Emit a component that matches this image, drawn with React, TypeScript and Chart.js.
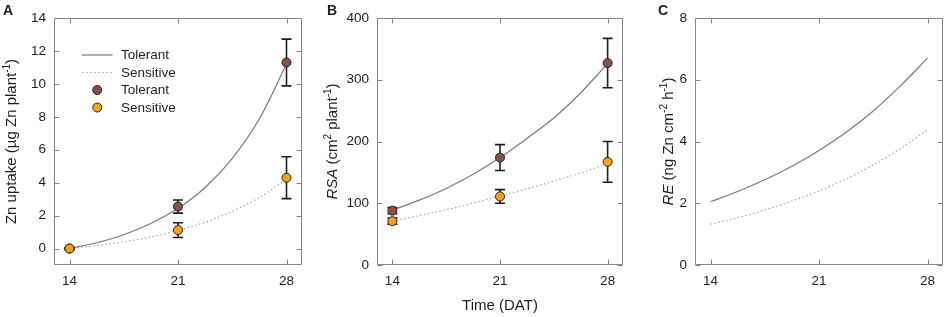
import React, { useEffect, useRef } from "react";
import { Chart, registerables } from "chart.js";

Chart.register(...registerables);

// ---------- data ----------
const days = [14, 21, 28];
const dayTicks = [14, 21, 28];
const fitDays = [14, 15.75, 17.5, 19.25, 21, 22.75, 24.5, 26.25, 28];

// Panel A: Zn uptake (µg Zn plant-1)
const uptakeTolerant = [0, 2.55, 11.3];
const uptakeTolerantErr = [0.05, 0.4, 1.42];
const uptakeSensitive = [0, 1.12, 4.3];
const uptakeSensitiveErr = [0.05, 0.45, 1.27];
const uptakeFitTolerant = [0, 0.35, 0.84, 1.52, 2.44, 3.71, 5.47, 7.88, 11.2];
const uptakeFitSensitive = [0, 0.18, 0.41, 0.71, 1.1, 1.6, 2.26, 3.1, 4.2];
const uptakeTicks = [0, 2, 4, 6, 8, 10, 12, 14];

// Panel B: RSA (cm2 plant-1)
const rsaTolerant = [88, 174, 327];
const rsaTolerantErr = [5, 21, 40];
const rsaSensitive = [71, 111, 167];
const rsaSensitiveErr = [5, 11, 33];
const rsaFitTolerant = [89, 105, 124, 147, 174, 205, 238, 279, 326];
const rsaFitSensitive = [71.5, 80, 89.6, 100, 112, 123.5, 135.7, 149, 164.5];
const rsaTicks = [0, 100, 200, 300, 400];

// Panel C: RE (ng Zn cm-2 h-1)
const reFitTolerant = [2.05, 2.38, 2.76, 3.2, 3.71, 4.3, 4.99, 5.8, 6.7];
const reFitSensitive = [1.32, 1.53, 1.78, 2.07, 2.4, 2.79, 3.24, 3.77, 4.38];
const reTicks = [0, 2, 4, 6, 8];

const seriesNames = ["Tolerant", "Sensitive"];
const panelLetters = ["A", "B", "C"];
const xAxisTitle = "Time (DAT)";

type Seg = { text: string; italic?: boolean; sup?: boolean };
const titleA: Seg[] = [{ text: "Zn uptake (µg Zn plant" }, { text: "-1", sup: true }, { text: ")" }];
const titleB: Seg[] = [
  { text: "RSA", italic: true },
  { text: " (cm" },
  { text: "2", sup: true },
  { text: " plant" },
  { text: "-1", sup: true },
  { text: ")" },
];
const titleC: Seg[] = [
  { text: "RE", italic: true },
  { text: " (ng Zn cm" },
  { text: "-2", sup: true },
  { text: " h" },
  { text: "-1", sup: true },
  { text: ")" },
];

// ---------- styles ----------
const FONT = "Arial, 'Liberation Sans', Helvetica, sans-serif";
const TEXT = "#1e1e1e";
const FRAME = "#858585";
const TOL_FILL = "#8B4F42";
const SEN_FILL = "#F7A21E";
const TOL_LINE = "#7a7a7a";
const SEN_LINE = "#a8a8a8";
const H = 317;

const pts = (xs: number[], ys: number[]) => xs.map((x, i) => ({ x, y: ys[i] }));

function segFont(s: Seg, size: number) {
  return `${s.italic ? "italic " : ""}${s.sup ? Math.round(size * 0.68) : size}px ${FONT}`;
}

function drawRich(ctx: CanvasRenderingContext2D, segs: Seg[], bx: number, cy: number, size: number) {
  const widths = segs.map((s) => {
    ctx.font = segFont(s, size);
    return ctx.measureText(s.text).width;
  });
  const total = widths.reduce((a, b) => a + b, 0);
  ctx.save();
  ctx.translate(bx, cy);
  ctx.rotate(-Math.PI / 2);
  ctx.fillStyle = TEXT;
  ctx.textAlign = "left";
  ctx.textBaseline = "alphabetic";
  let x = -total / 2;
  segs.forEach((s, i) => {
    ctx.font = segFont(s, size);
    ctx.fillText(s.text, x, s.sup ? -size * 0.4 : 0);
    x += widths[i];
  });
  ctx.restore();
}

const errorBarPlugin = {
  id: "errorBars",
  beforeDatasetDraw(chart: any, args: any) {
    const ds = chart.data.datasets[args.index];
    if (!ds.errors) return;
    const ctx = chart.ctx;
    const xs = chart.scales.x;
    const ys = chart.scales.y;
    ctx.save();
    ctx.strokeStyle = "#1e1e1e";
    ctx.lineWidth = 1.6;
    ds.data.forEach((p: any, i: number) => {
      const e = ds.errors[i];
      const px = xs.getPixelForValue(p.x);
      const top = ys.getPixelForValue(p.y + e);
      const bot = ys.getPixelForValue(p.y - e);
      ctx.beginPath();
      ctx.moveTo(px, top);
      ctx.lineTo(px, bot);
      ctx.moveTo(px - 5, top);
      ctx.lineTo(px + 5, top);
      ctx.moveTo(px - 5, bot);
      ctx.lineTo(px + 5, bot);
      ctx.stroke();
    });
    ctx.restore();
  },
};

const decorPlugin = {
  id: "decor",
  afterDraw(chart: any, _args: any, opts: any) {
    const ctx = chart.ctx as CanvasRenderingContext2D;
    const a = chart.chartArea;
    const xs = chart.scales.x;
    const ys = chart.scales.y;
    const L = Math.round(a.left) + 0.5;
    const R = Math.round(a.right) - 0.5;
    const T = Math.round(a.top) + 0.5;
    const B = Math.round(a.bottom) - 0.5;
    ctx.save();
    ctx.strokeStyle = FRAME;
    ctx.lineWidth = 1;
    ctx.beginPath();
    ctx.rect(L, T, R - L, B - T);
    const tl = 5;
    xs.ticks.forEach((t: any) => {
      const px = Math.round(xs.getPixelForValue(t.value)) + 0.5;
      ctx.moveTo(px, B);
      ctx.lineTo(px, B - tl);
      ctx.moveTo(px, T);
      ctx.lineTo(px, T + tl);
    });
    ys.ticks.forEach((t: any) => {
      const py = Math.round(ys.getPixelForValue(t.value)) + 0.5;
      ctx.moveTo(L, py);
      ctx.lineTo(L + tl, py);
      ctx.moveTo(R, py);
      ctx.lineTo(R - tl, py);
    });
    ctx.stroke();

    // y title
    drawRich(ctx, opts.title, opts.titleX, (a.top + a.bottom) / 2, 15);

    // panel letter
    ctx.fillStyle = TEXT;
    ctx.font = `bold 14px ${FONT}`;
    ctx.textAlign = "left";
    ctx.textBaseline = "alphabetic";
    ctx.fillText(opts.letter, opts.letterX, 14.5);

    // x title
    if (opts.xTitle) {
      ctx.font = `15px ${FONT}`;
      ctx.textAlign = "center";
      ctx.fillText(opts.xTitle, (a.left + a.right) / 2, 310);
    }

    // legend
    if (opts.legend) {
      const ds = chart.data.datasets;
      const lx0 = a.left + 28;
      const lx1 = a.left + 58.5;
      const tx = a.left + 67;
      const rows = [55, 72.5, 90, 107.5];
      ctx.font = `13.5px ${FONT}`;
      ctx.textAlign = "left";
      ctx.textBaseline = "middle";
      const lineSets = [ds[2], ds[3]];
      lineSets.forEach((d: any, i: number) => {
        ctx.save();
        ctx.strokeStyle = d.borderColor;
        ctx.lineWidth = d.borderWidth;
        ctx.setLineDash(d.borderDash || []);
        ctx.beginPath();
        ctx.moveTo(lx0, rows[i]);
        ctx.lineTo(lx1, rows[i]);
        ctx.stroke();
        ctx.restore();
        ctx.fillStyle = TEXT;
        ctx.fillText(d.label, tx, rows[i] + 0.5);
      });
      const ptSets = [ds[1], ds[0]];
      ptSets.forEach((d: any, i: number) => {
        const y = rows[i + 2];
        ctx.beginPath();
        ctx.arc((lx0 + lx1) / 2, y, 4.5, 0, Math.PI * 2);
        ctx.fillStyle = d.backgroundColor;
        ctx.fill();
        ctx.strokeStyle = d.borderColor;
        ctx.lineWidth = 1;
        ctx.stroke();
        ctx.fillStyle = TEXT;
        ctx.fillText(d.label, tx, y + 0.5);
      });
    }
    ctx.restore();
  },
};

type PanelDef = {
  left: number;
  width: number;
  yW: number;
  padR: number;
  yMin: number;
  yMax: number;
  yTicks: number[];
  title: Seg[];
  titleX: number;
  letter: string;
  letterX: number;
  xTitle?: string;
  legend?: boolean;
  fitTol: number[];
  fitSen: number[];
  ptTol?: number[];
  ptSen?: number[];
  errTol?: number[];
  errSen?: number[];
};

const panels: PanelDef[] = [
  {
    left: 0, width: 310, yW: 54, padR: 8, yMin: -1, yMax: 14, yTicks: uptakeTicks,
    title: titleA, titleX: 15.5, letter: panelLetters[0], letterX: 3, legend: true,
    fitTol: uptakeFitTolerant, fitSen: uptakeFitSensitive,
    ptTol: uptakeTolerant, ptSen: uptakeSensitive, errTol: uptakeTolerantErr, errSen: uptakeSensitiveErr,
  },
  {
    left: 310, width: 320, yW: 67, padR: 7, yMin: 0, yMax: 400, yTicks: rsaTicks,
    title: titleB, titleX: 27, letter: panelLetters[1], letterX: 17, xTitle: xAxisTitle,
    fitTol: rsaFitTolerant, fitSen: rsaFitSensitive,
    ptTol: rsaTolerant, ptSen: rsaSensitive, errTol: rsaTolerantErr, errSen: rsaSensitiveErr,
  },
  {
    left: 630, width: 316, yW: 65, padR: 3, yMin: 0, yMax: 8, yTicks: reTicks,
    title: titleC, titleX: 42.5, letter: panelLetters[2], letterX: 28,
    fitTol: reFitTolerant, fitSen: reFitSensitive,
  },
];

function Panel({ def }: { def: PanelDef }) {
  const ref = useRef<HTMLCanvasElement | null>(null);
  useEffect(() => {
    if (!ref.current) return;
    const datasets: any[] = [
      {
        label: seriesNames[1],
        data: def.ptSen ? pts(days, def.ptSen) : [],
        errors: def.errSen,
        showLine: false,
        pointRadius: 4.5,
        pointBorderWidth: 1,
        backgroundColor: SEN_FILL,
        borderColor: "#222",
      },
      {
        label: seriesNames[0],
        data: def.ptTol ? pts(days, def.ptTol) : [],
        errors: def.errTol,
        showLine: false,
        pointRadius: 4.5,
        pointBorderWidth: 1,
        backgroundColor: TOL_FILL,
        borderColor: "#222",
      },
      {
        label: seriesNames[0],
        data: pts(fitDays, def.fitTol),
        showLine: true,
        pointRadius: 0,
        borderColor: TOL_LINE,
        borderWidth: 1.2,
        cubicInterpolationMode: "monotone",
      },
      {
        label: seriesNames[1],
        data: pts(fitDays, def.fitSen),
        showLine: true,
        pointRadius: 0,
        borderColor: SEN_LINE,
        borderWidth: 1.2,
        borderDash: [1.5, 2.5],
        cubicInterpolationMode: "monotone",
      },
    ];
    const chart = new Chart(ref.current, {
      type: "scatter",
      data: { datasets },
      options: {
        animation: false,
        responsive: false,
        layout: { padding: { top: 18, right: def.padR, left: 0, bottom: 0 } },
        plugins: {
          legend: { display: false },
          tooltip: { enabled: false },
          decor: {
            title: def.title,
            titleX: def.titleX,
            letter: def.letter,
            letterX: def.letterX,
            xTitle: def.xTitle,
            legend: def.legend,
          },
        } as any,
        scales: {
          x: {
            type: "linear",
            min: 13,
            max: 29,
            grid: { display: false, drawTicks: false },
            border: { display: false },
            afterBuildTicks: (s: any) => {
              s.ticks = dayTicks.map((v) => ({ value: v }));
            },
            afterFit: (s: any) => {
              s.height = H - 265;
            },
            ticks: { color: TEXT, font: { family: FONT, size: 13.5 }, padding: 8, maxRotation: 0 },
          },
          y: {
            type: "linear",
            min: def.yMin,
            max: def.yMax,
            grid: { display: false, drawTicks: false },
            border: { display: false },
            afterBuildTicks: (s: any) => {
              s.ticks = def.yTicks.map((v) => ({ value: v }));
            },
            afterFit: (s: any) => {
              s.width = def.yW;
            },
            ticks: { color: TEXT, font: { family: FONT, size: 13.5 }, padding: 8 },
          },
        },
      },
      plugins: [errorBarPlugin, decorPlugin],
    });
    return () => chart.destroy();
  }, [def]);
  return (
    <canvas
      ref={ref}
      width={def.width}
      height={H}
      style={{ position: "absolute", left: def.left, top: 0, width: def.width, height: H }}
    />
  );
}

export default function App() {
  return (
    <div style={{ position: "absolute", left: 0, top: 0, width: 946, height: H, background: "#fff" }}>
      {panels.map((p, i) => (
        <Panel key={i} def={p} />
      ))}
    </div>
  );
}
